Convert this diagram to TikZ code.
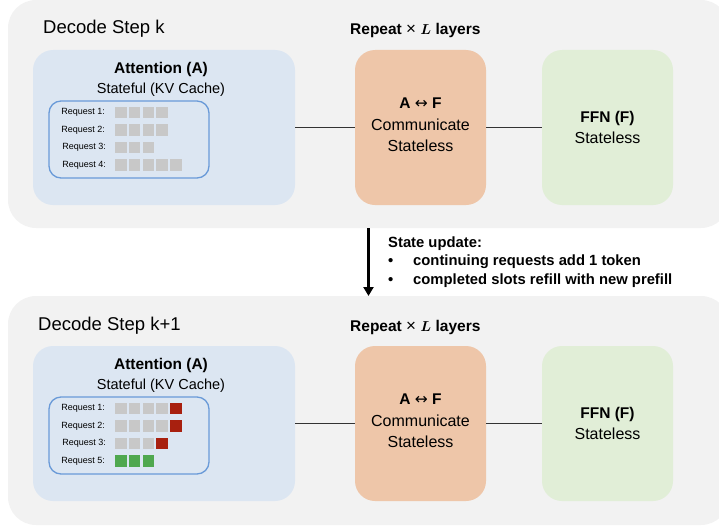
\documentclass[tikz,border=0pt]{standalone}
\usepackage{fontspec}
\setmainfont{Liberation Sans}
\newfontfamily\symfont{DejaVu Sans}
\usetikzlibrary{arrows.meta}
\definecolor{panelbg}{HTML}{F2F2F2}
\definecolor{attbg}{HTML}{DCE6F2}
\definecolor{innerbd}{HTML}{6A9AD8}
\definecolor{commbg}{HTML}{EEC6A9}
\definecolor{ffnbg}{HTML}{E1EED7}
\definecolor{tokgray}{HTML}{C8C8C8}
\definecolor{tokred}{HTML}{A8200F}
\definecolor{tokgreen}{HTML}{4FA84F}
\definecolor{linec}{HTML}{333333}
\tikzset{
  panel/.style={fill=panelbg, rounded corners=28pt, minimum width=721pt, inner sep=0pt, outer sep=0pt},
  bigbox/.style={rounded corners=20pt, minimum height=155pt, inner sep=0pt, outer sep=0pt},
  attbox/.style={bigbox, fill=attbg, minimum width=262pt},
  commbox/.style={bigbox, fill=commbg, minimum width=131pt},
  ffnbox/.style={bigbox, fill=ffnbg, minimum width=131pt},
  innerbox/.style={draw=innerbd, line width=1.3pt, rounded corners=12pt, minimum width=160pt, minimum height=77pt, inner sep=0pt},
  steptitle/.style={anchor=base west, inner sep=0pt, font=\fontsize{18.5}{22}\selectfont},
  repeattitle/.style={anchor=base west, inner sep=0pt, font=\bfseries\fontsize{15.5}{18}\selectfont},
  boxhead/.style={anchor=base, inner sep=0pt, font=\bfseries\fontsize{15.5}{18}\selectfont},
  boxtext/.style={anchor=base, inner sep=0pt, font=\fontsize{16}{19}\selectfont},
  attsub/.style={anchor=base, inner sep=0pt, font=\fontsize{14.5}{17}\selectfont},
  reqlabel/.style={anchor=east, inner sep=0pt, font=\fontsize{9}{10}\selectfont},
  conn/.style={draw=linec, line width=1.8pt},
  updtext/.style={anchor=base west, inner sep=0pt, font=\bfseries\fontsize{14.8}{17}\selectfont},
}
\newcommand\tokrow[4]{% #1 row top, #2 gray count, #3 extra colour, #4 extra count
  \foreach \i in {1,...,#2}{\fill[tokgray] ({115+(\i-1)*13.75},#1) rectangle ++(11.7,11.7);}
  \ifnum#4>0
    \fill[#3] ({115+#2*13.75},#1) rectangle ++(11.7,11.7);
  \fi
}
\newcommand\afarrow{A {\symfont\mdseries ↔} F}
\newcommand\repeatlabel{Repeat {\mdseries\fontsize{17}{18}\selectfont ×} {\boldmath$L$} layers}
\begin{document}
\begin{tikzpicture}[x=1pt,y=-1pt]
\useasboundingbox (0,0) rectangle (719,527);
% panels
\node[panel, minimum height=228pt] (panelk) at (368.5,114) {};
\node[panel, minimum height=229pt] (panelk1) at (368.5,410.5) {};

% ---------- top panel ----------
\node[steptitle] (titlek) at (43,34) {Decode Step k};
\node[repeattitle] (repk) at (350,35) {\repeatlabel};
\node[attbox] (attk) at (164,127.5) {};
\node[commbox] (commk) at (420.5,127.5) {};
\node[ffnbox] (ffnk) at (607.5,127.5) {};
\node[boxhead] (attkh) at (161,73) {Attention (A)};
\node[attsub] (attks) at (161,93) {Stateful (KV Cache)};
\node[innerbox] (cachek) at (129,139.5) {};
\node[reqlabel] (rk1) at (105,112.5) {Request 1:};
\node[reqlabel] (rk2) at (105,130) {Request 2:};
\node[reqlabel] (rk3) at (106,147.5) {Request 3:};
\node[reqlabel] (rk4) at (106,165) {Request 4:};
\tokrow{106.5}{4}{tokgray}{0}
\tokrow{124}{4}{tokgray}{0}
\tokrow{141.5}{3}{tokgray}{0}
\tokrow{159}{5}{tokgray}{0}
\node[boxhead] (commkh) at (420.5,108) {\afarrow};
\node[boxtext] (commkt) at (420.5,130) {Communicate};
\node[boxtext] (commks) at (420.5,151.5) {Stateless};
\node[boxhead] (ffnkh) at (607.5,122.5) {FFN (F)};
\node[boxtext] (ffnks) at (607.5,143) {Stateless};
\draw[conn] (attk.east) -- (commk.west);
\draw[conn] (commk.east) -- (ffnk.west);

% ---------- arrow and update text ----------
\draw[line width=2.2pt, -{Triangle[width=10pt,length=9pt]}] (panelk.south) -- (panelk1.north);
\node[updtext] (upd) at (388,247) {State update:};
\node[updtext] (b1) at (388,265.5) {•};
\node[updtext] (u1) at (413,265.5) {continuing requests add 1 token};
\node[updtext] (b2) at (388,284.5) {•};
\node[updtext] (u2) at (413,284.5) {completed slots refill with new prefill};

% ---------- bottom panel ----------
\begin{scope}[yshift=-296pt]
\node[steptitle] (titlek1) at (38,34) {Decode Step k+1};
\node[repeattitle] (repk1) at (350,35) {\repeatlabel};
\node[attbox] (attk1) at (164,127.5) {};
\node[commbox] (commk1) at (420.5,127.5) {};
\node[ffnbox] (ffnk1) at (607.5,127.5) {};
\node[boxhead] (attk1h) at (161,73) {Attention (A)};
\node[attsub] (attk1s) at (161,93) {Stateful (KV Cache)};
\node[innerbox] (cachek1) at (129,139.5) {};
\node[reqlabel] (rj1) at (105,112.5) {Request 1:};
\node[reqlabel] (rj2) at (105,130) {Request 2:};
\node[reqlabel] (rj3) at (106,147.5) {Request 3:};
\node[reqlabel] (rj5) at (105,165) {Request 5:};
\tokrow{106.5}{4}{tokred}{1}
\tokrow{124}{4}{tokred}{1}
\tokrow{141.5}{3}{tokred}{1}
\foreach \i in {1,2,3}{\fill[tokgreen] ({115+(\i-1)*13.75},159) rectangle ++(11.7,11.7);}
\node[boxhead] (commk1h) at (420.5,108) {\afarrow};
\node[boxtext] (commk1t) at (420.5,130) {Communicate};
\node[boxtext] (commk1s) at (420.5,151.5) {Stateless};
\node[boxhead] (ffnk1h) at (607.5,122.5) {FFN (F)};
\node[boxtext] (ffnk1s) at (607.5,143) {Stateless};
\draw[conn] (attk1.east) -- (commk1.west);
\draw[conn] (commk1.east) -- (ffnk1.west);
\end{scope}
\end{tikzpicture}
\end{document}
